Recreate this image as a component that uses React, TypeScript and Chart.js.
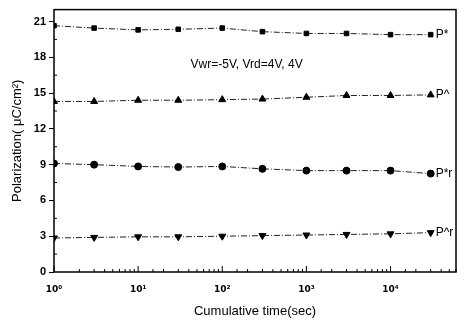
import React, { useEffect, useRef } from 'react';
import { Chart, registerables } from 'chart.js';

Chart.register(...registerables);

const times = [1, 3, 10, 30, 100, 300, 1000, 3000, 10000, 30000];
const pStar = [20.65, 20.45, 20.3, 20.35, 20.45, 20.15, 20.0, 20.0, 19.9, 19.9];
const pHat = [14.3, 14.3, 14.4, 14.4, 14.45, 14.5, 14.65, 14.8, 14.8, 14.85];
const pStarR = [9.1, 9.0, 8.85, 8.8, 8.85, 8.65, 8.5, 8.5, 8.5, 8.25];
const pHatR = [2.85, 2.9, 2.95, 2.95, 3.0, 3.05, 3.1, 3.15, 3.2, 3.3];
const seriesLabels = ['P*', 'P^', 'P*r', 'P^r'];
const xMajor = [1, 10, 100, 1000, 10000];
const xTickLabels = ['10⁰', '10¹', '10²', '10³', '10⁴'];
const yStep = 3;
const annotation = 'Vwr=-5V, Vrd=4V, 4V';
const annotationPos = { x: 42, y: 17.4 };
const xTitle = 'Cumulative time(sec)';
const yTitle = 'Polarization( μC/cm²)';

const FONT = "'Liberation Sans', Arial, sans-serif";

const decorPlugin = {
  id: 'decor',
  afterDraw(chart: any) {
    const { ctx, chartArea } = chart;
    const xs = chart.scales.x;
    const ys = chart.scales.y;
    ctx.save();
    ctx.strokeStyle = '#000';
    // frame
    ctx.lineWidth = 1.5;
    ctx.strokeRect(chartArea.left, chartArea.top, chartArea.right - chartArea.left, chartArea.bottom - chartArea.top);
    // x inward ticks
    ctx.lineWidth = 1;
    ctx.beginPath();
    for (const t of xs.ticks) {
      const px = xs.getPixelForValue(t.value);
      if (px < chartArea.left - 0.5 || px > chartArea.right + 0.5) continue;
      const major = xMajor.includes(t.value);
      const len = major ? 6 : 3;
      ctx.moveTo(px, chartArea.bottom);
      ctx.lineTo(px, chartArea.bottom - len);
    }
    // y minor inward ticks
    for (let v = yStep / 2; v < ys.max; v += yStep) {
      const py = ys.getPixelForValue(v);
      ctx.moveTo(chartArea.left, py);
      ctx.lineTo(chartArea.left + 3, py);
    }
    ctx.stroke();
    // series end labels
    ctx.fillStyle = '#000';
    ctx.font = `12px ${FONT}`;
    ctx.textBaseline = 'middle';
    ctx.textAlign = 'left';
    chart.data.datasets.forEach((ds: any, i: number) => {
      const last = ds.data[ds.data.length - 1];
      const px = xs.getPixelForValue(last.x);
      const py = ys.getPixelForValue(last.y);
      ctx.fillText(seriesLabels[i], px + 5, py);
    });
    // annotation
    ctx.font = `12px ${FONT}`;
    ctx.fillText(annotation, xs.getPixelForValue(annotationPos.x), ys.getPixelForValue(annotationPos.y));
    ctx.restore();
  },
};

function mk(values: number[]) {
  return times.map((t, i) => ({ x: t, y: values[i] }));
}

export default function App() {
  const ref = useRef<HTMLCanvasElement | null>(null);
  useEffect(() => {
    if (!ref.current) return;
    const common = {
      borderColor: '#222',
      backgroundColor: '#000',
      pointBackgroundColor: '#000',
      pointBorderColor: '#000',
      borderWidth: 1,
      borderDash: [6, 2, 1, 2],
      pointRadius: 3.5,
      pointHoverRadius: 3.5,
      showLine: true,
      fill: false,
    };
    const chart = new Chart(ref.current, {
      type: 'scatter',
      data: {
        datasets: [
          { ...common, label: seriesLabels[0], data: mk(pStar), pointStyle: 'rect', pointRadius: 3.2 },
          { ...common, label: seriesLabels[1], data: mk(pHat), pointStyle: 'triangle', pointRadius: 4 },
          { ...common, label: seriesLabels[2], data: mk(pStarR), pointStyle: 'circle' },
          { ...common, label: seriesLabels[3], data: mk(pHatR), pointStyle: 'triangle', pointRadius: 4, rotation: 180 },
        ],
      },
      options: {
        animation: false,
        events: [],
        responsive: false,
        maintainAspectRatio: false,
        layout: { padding: { top: 7, right: 1, left: 0, bottom: 0 } },
        plugins: { legend: { display: false }, tooltip: { enabled: false } },
        scales: {
          x: {
            type: 'logarithmic',
            min: 1,
            max: 60000,
            border: { display: false },
            grid: { display: false, drawTicks: false },
            ticks: {
              autoSkip: false,
              maxRotation: 0,
              minRotation: 0,
              padding: 12,
              color: '#000',
              font: { family: "'DejaVu Sans', sans-serif", size: 9, weight: 'bold' },
              callback: (v: any) => {
                const idx = xMajor.indexOf(Number(v));
                return idx >= 0 ? xTickLabels[idx] : '';
              },
            },
            title: {
              display: true,
              text: xTitle,
              color: '#000',
              font: { family: FONT, size: 13 },
              padding: { top: 0, bottom: 5 },
            },
            afterFit: (s: any) => { s.height = 52; },
          },
          y: {
            type: 'linear',
            min: 0,
            max: 22,
            border: { display: false },
            grid: { drawOnChartArea: false, drawTicks: true, tickLength: 5, color: '#000', lineWidth: 1 },
            ticks: {
              stepSize: yStep,
              includeBounds: false,
              padding: 3,
              color: '#000',
              font: { family: FONT, size: 11, weight: 'bold' },
            },
            title: {
              display: true,
              text: yTitle,
              color: '#000',
              font: { family: FONT, size: 13 },
              padding: { top: 10, bottom: 0 },
            },
            afterFit: (s: any) => { s.width = 54; },
          },
        },
      },
      plugins: [decorPlugin],
    } as any);
    return () => chart.destroy();
  }, []);
  return (
    <div style={{ position: 'fixed', left: 0, top: 0, width: 468, height: 324, background: '#fff' }}>
      <canvas ref={ref} width={468} height={324} style={{ width: 468, height: 324 }} />
    </div>
  );
}
